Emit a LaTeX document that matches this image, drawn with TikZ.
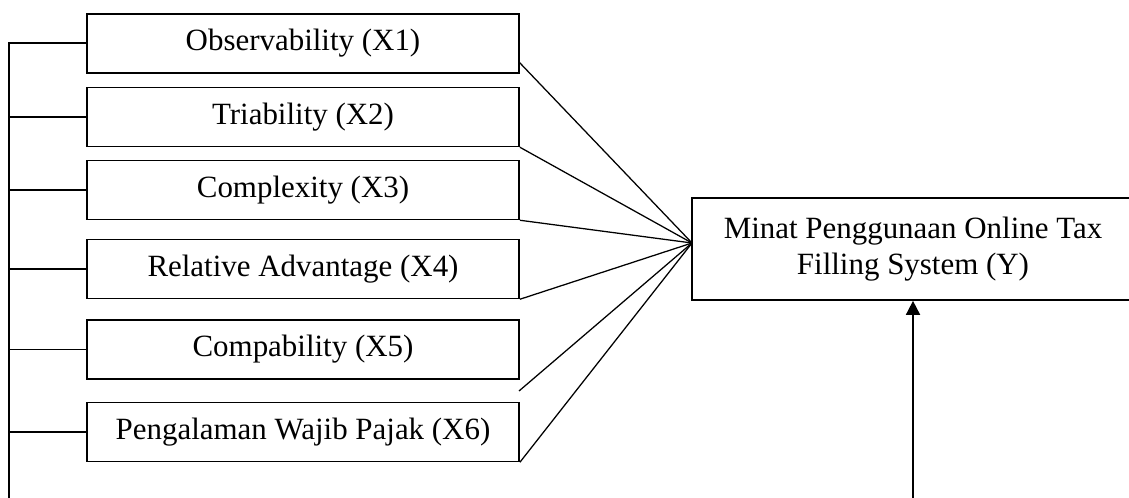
\documentclass[tikz,border=0pt]{standalone}
\usepackage{fontspec}
\setmainfont{Liberation Serif}
\usetikzlibrary{arrows.meta}

\begin{document}
\begin{tikzpicture}[x=0.025cm, y=-0.025cm,
        every node/.style={font=\fontsize{22}{25.5}\selectfont},
        varbox/.style={draw, line width=1.2pt, minimum width=10.8cm,
                       minimum height=1.47cm, inner sep=0pt},
        fanline/.style={line width=0.9pt},
        busline/.style={line width=1.2pt}]
    \useasboundingbox (0,0) rectangle (1129,498);

    % independent variables
    \node[varbox] (obs)  at (303,43.3) {Observability (X1)};
    \node[varbox] (tri)  at (303,117)  {Triability (X2)};
    \node[varbox] (cplx) at (303,190)  {Complexity (X3)};
    \node[varbox] (rel)  at (303,269)  {Relative Advantage (X4)};
    \node[varbox] (comp) at (303,349.5) {Compability (X5)};
    \node[varbox] (peng) at (303,432)  {Pengalaman Wajib Pajak (X6)};

    % dependent variable
    \node[draw, line width=1.2pt, minimum width=11.05cm, minimum height=2.55cm,
          align=center] (minat) at (913,249)
          {Minat Penggunaan Online Tax\\Filling System (Y)};

    \coordinate (hub)     at (692,243);
    \coordinate (obsend)  at (519,62);
    \coordinate (compend) at (519,391);
    \coordinate (busend)  at (9,498);
    \coordinate (arrbot)  at (913,498);

    % fan into Y
    \draw[fanline] (obsend) -- (hub);
    \draw[fanline] (tri.south east) -- (hub);
    \draw[fanline] (cplx.south east) -- (hub);
    \draw[fanline] (rel.south east) -- (hub);
    \draw[fanline] (compend) -- (hub);
    \draw[fanline] (peng.south east) -- (hub);

    % bus on the left
    \draw[busline] (obs.west) -- (obs.west -| busend) -- (busend);
    \draw[busline] (tri.west) -- (tri.west -| busend);
    \draw[busline] (cplx.west) -- (cplx.west -| busend);
    \draw[busline] (rel.west) -- (rel.west -| busend);
    \draw[busline] (comp.west) -- (comp.west -| busend);
    \draw[busline] (peng.west) -- (peng.west -| busend);

    \draw[busline, -{Triangle[width=10pt, length=10pt]}] (arrbot) -- (minat.south);
\end{tikzpicture}
\end{document}
